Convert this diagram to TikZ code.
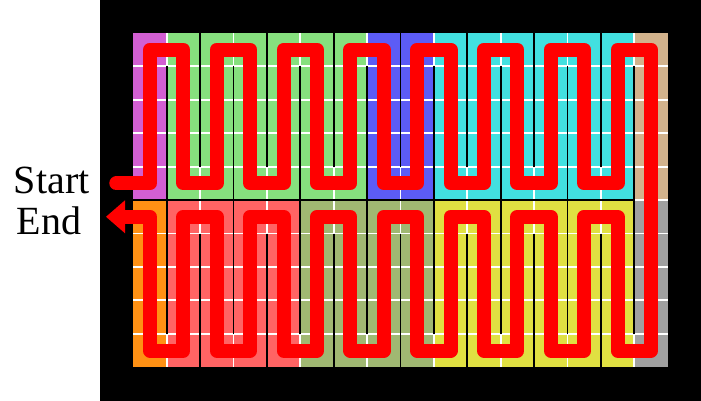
\documentclass[tikz,border=0pt]{standalone}
\usepackage{fontspec}
\setmainfont{Liberation Serif}
\usetikzlibrary{arrows.meta}
\definecolor{cpurple}{RGB}{210,95,210}
\definecolor{cgreen}{RGB}{134,224,126}
\definecolor{cblue}{RGB}{92,92,246}
\definecolor{ccyan}{RGB}{66,224,224}
\definecolor{ctan}{RGB}{210,178,140}
\definecolor{corange}{RGB}{255,145,20}
\definecolor{csalmon}{RGB}{255,100,100}
\definecolor{colive}{RGB}{160,184,114}
\definecolor{cyellow}{RGB}{224,224,66}
\definecolor{cgrey}{RGB}{160,160,160}
\definecolor{cpath}{RGB}{255,0,0}
\tikzset{
  lbl/.style={font=\fontsize{40}{48}\selectfont, anchor=base, inner sep=0pt},
  gridline/.style={draw=white, line width=1.9pt},
  wall/.style={draw=black, line width=1.9pt},
  snake/.style={draw=cpath, line width=14pt, line join=round, line cap=round,
    -{Triangle[length=19pt,width=33pt,line width=0pt]}},
}
\begin{document}
\begin{tikzpicture}[x=1pt,y=-1pt]
\useasboundingbox (0,0) rectangle (701,401);
\fill[white] (0,0) rectangle (701,401);
\fill[black] (100,0) rectangle (701,401);
\node[lbl] (startlbl) at (51.7,193.5) {Start};
\node[lbl] (endlbl) at (49.2,234) {End};
\begin{scope}[shift={(133.3,32.8)}, x=33.4pt, y=-33.45pt]
  % region fills
  \fill[cpurple] (0,0) rectangle (1,5);
  \fill[cgreen] (1,0) rectangle (7,5);
  \fill[cblue] (7,0) rectangle (9,5);
  \fill[ccyan] (9,0) rectangle (15,5);
  \fill[ctan] (15,0) rectangle (16,5);
  \fill[corange] (0,5) rectangle (1,10);
  \fill[csalmon] (1,5) rectangle (5,10);
  \fill[colive] (5,5) rectangle (9,10);
  \fill[cyellow] (9,5) rectangle (15,10);
  \fill[cgrey] (15,5) rectangle (16,10);
  % white grid
  \foreach \k in {1,...,15} \draw[gridline] (\k,0) -- (\k,10);
  \foreach \m in {1,...,9} \draw[gridline] (0,\m) -- (16,\m);
  % walls
  \foreach \k in {1,3,...,15} {
    \draw[wall] (\k,1) -- (\k,5);
    \draw[wall] (\k,5) -- (\k,9);
  }
  \foreach \k in {2,4,...,14} {
    \draw[wall] (\k,0) -- (\k,4);
    \draw[wall] (\k,6) -- (\k,10);
  }
  \draw[wall] (0,5) -- (15,5);
  % path
  \coordinate (pstart) at (-0.509,4.5);
  \coordinate (pend) at (-0.817,5.5);
  \draw[snake] (pstart) -- (0.5,4.5) -- (0.5,0.5) -- (1.5,0.5) -- (1.5,4.5)
    -- (2.5,4.5) -- (2.5,0.5) -- (3.5,0.5) -- (3.5,4.5)
    -- (4.5,4.5) -- (4.5,0.5) -- (5.5,0.5) -- (5.5,4.5)
    -- (6.5,4.5) -- (6.5,0.5) -- (7.5,0.5) -- (7.5,4.5)
    -- (8.5,4.5) -- (8.5,0.5) -- (9.5,0.5) -- (9.5,4.5)
    -- (10.5,4.5) -- (10.5,0.5) -- (11.5,0.5) -- (11.5,4.5)
    -- (12.5,4.5) -- (12.5,0.5) -- (13.5,0.5) -- (13.5,4.5)
    -- (14.5,4.5) -- (14.5,0.5) -- (15.5,0.5) -- (15.5,9.5)
    -- (14.5,9.5) -- (14.5,5.5) -- (13.5,5.5) -- (13.5,9.5)
    -- (12.5,9.5) -- (12.5,5.5) -- (11.5,5.5) -- (11.5,9.5)
    -- (10.5,9.5) -- (10.5,5.5) -- (9.5,5.5) -- (9.5,9.5)
    -- (8.5,9.5) -- (8.5,5.5) -- (7.5,5.5) -- (7.5,9.5)
    -- (6.5,9.5) -- (6.5,5.5) -- (5.5,5.5) -- (5.5,9.5)
    -- (4.5,9.5) -- (4.5,5.5) -- (3.5,5.5) -- (3.5,9.5)
    -- (2.5,9.5) -- (2.5,5.5) -- (1.5,5.5) -- (1.5,9.5)
    -- (0.5,9.5) -- (0.5,5.5) -- (pend);
\end{scope}
\end{tikzpicture}
\end{document}
